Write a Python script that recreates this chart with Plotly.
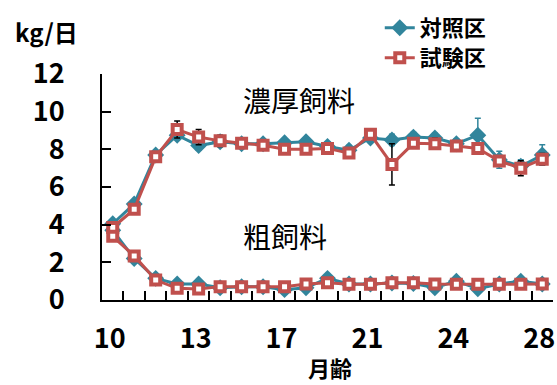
import plotly.graph_objects as go

# Categories (month of age) – 21 sampling points, labelled every 4th point
n_points = 21
tick_positions = [0, 4, 8, 12, 16, 20]
tick_labels = ["10", "13", "17", "21", "24", "28"]

# 濃厚飼料 (concentrate) intake, kg/day
conc_control = [4.05, 5.1, 7.7, 8.75, 8.2, 8.4, 8.3, 8.3, 8.35, 8.4, 8.15, 7.95, 8.6, 8.5, 8.65, 8.6, 8.3, 8.75, 7.45, 7.1, 7.7]
conc_test = [3.85, 4.82, 7.6, 9.05, 8.65, 8.45, 8.32, 8.22, 8.0, 8.0, 8.05, 7.8, 8.8, 7.2, 8.32, 8.3, 8.18, 8.05, 7.38, 7.0, 7.48]
conc_control_err = [0.1, 0.15, 0.1, 0.2, 0.25, 0.15, 0.1, 0.15, 0.15, 0.2, 0.25, 0.25, 0.2, 0.3, 0.25, 0.25, 0.25, 0.9, 0.45, 0.35, 0.55]
conc_test_err = [0.1, 0.1, 0.1, 0.45, 0.4, 0.3, 0.1, 0.1, 0.1, 0.1, 0.1, 0.1, 0.1, 1.1, 0.2, 0.3, 0.1, 0.2, 0.2, 0.4, 0.3]

# 粗飼料 (roughage) intake, kg/day
rough_control = [3.7, 2.2, 1.15, 0.85, 0.85, 0.65, 0.7, 0.7, 0.55, 0.65, 1.15, 0.85, 0.85, 0.9, 0.88, 0.65, 1.0, 0.6, 0.85, 1.0, 0.85]
rough_test = [3.38, 2.34, 1.06, 0.62, 0.58, 0.71, 0.71, 0.71, 0.71, 0.85, 0.92, 0.83, 0.83, 0.92, 0.92, 0.85, 0.83, 0.83, 0.83, 0.83, 0.85]
rough_control_err = [0.1] * n_points
rough_test_err = [0.1] * n_points

x = list(range(n_points))
teal = "#31859C"
red = "#C0504D"

fig = go.Figure()

def ctrl_trace(y, err, show):
    return go.Scatter(
        x=x, y=y, mode="lines+markers", name="対照区", showlegend=show,
        line=dict(color=teal, width=3),
        marker=dict(symbol="diamond", size=13, color=teal),
        error_y=dict(type="data", array=err, visible=True, color=teal, thickness=1.5, width=3),
        cliponaxis=False, legend="legend",
    )

def test_trace(y, err, show):
    return go.Scatter(
        x=x, y=y, mode="lines+markers", name="試験区", showlegend=show,
        line=dict(color=red, width=3),
        marker=dict(symbol="square", size=9, color="white", line=dict(color=red, width=4)),
        error_y=dict(type="data", array=err, visible=True, color="black", thickness=1.5, width=3),
        cliponaxis=False, legend="legend2",
    )

fig.add_trace(ctrl_trace(conc_control, conc_control_err, True))
fig.add_trace(ctrl_trace(rough_control, rough_control_err, False))
fig.add_trace(test_trace(conc_test, conc_test_err, True))
fig.add_trace(test_trace(rough_test, rough_test_err, False))

font_bold = "Noto Sans CJK JP"
L, T, W, H = 102, 74, 453, 226  # plot area in pixels

def px_x(p):
    return (p - L) / W

def px_y(p):
    return (T + H - p) / H

legend_style = dict(
    x=px_x(381), xanchor="left", yanchor="middle",
    font=dict(size=22, family=font_bold, weight="bold"),
    bgcolor="rgba(0,0,0,0)", itemwidth=30,
)

fig.update_layout(
    width=557, height=385,
    margin=dict(l=L, r=557 - L - W, t=T, b=385 - T - H),
    plot_bgcolor="white", paper_bgcolor="white",
    font=dict(family=font_bold, color="black"),
    showlegend=True,
    legend=dict(legend_style, y=px_y(28)),
    legend2=dict(legend_style, y=px_y(58)),
    xaxis=dict(
        range=[-0.5, n_points - 0.5],
        tickmode="array", tickvals=tick_positions, ticktext=tick_labels,
        ticks="", showgrid=False, zeroline=False,
        showline=True, linecolor="black", linewidth=2,
        tickfont=dict(size=27, family=font_bold, weight="bold"),
        ticklabelstandoff=14, ticklabelshift=-3, ticklabeloverflow="allow",
        minor=dict(tickmode="array", tickvals=[i - 0.5 for i in range(1, n_points)],
                   ticks="inside", ticklen=9, tickwidth=2, tickcolor="black", showgrid=False),
    ),
    yaxis=dict(
        range=[0, 12], dtick=2, tick0=0,
        ticks="inside", ticklen=9, tickwidth=2, tickcolor="black",
        showgrid=False, zeroline=False,
        showline=True, linecolor="black", linewidth=2,
        tickfont=dict(size=27, family=font_bold, weight="bold"),
        ticklabelstandoff=30,
    ),
    annotations=[
        dict(text="濃厚飼料", x=8.65, y=10.6, xref="x", yref="y", showarrow=False,
             font=dict(size=28, family="Noto Sans CJK JP")),
        dict(text="粗飼料", x=8.0, y=3.4, xref="x", yref="y", showarrow=False,
             font=dict(size=28, family="Noto Sans CJK JP")),
        dict(text="kg/日", x=px_x(46), y=px_y(32), xref="paper", yref="paper", showarrow=False,
             xanchor="center", yanchor="middle",
             font=dict(size=24, family=font_bold, weight="bold")),
        dict(text="月齢", x=px_x(331), y=px_y(367), xref="paper", yref="paper", showarrow=False,
             xanchor="center", yanchor="middle",
             font=dict(size=22, family=font_bold, weight="bold")),
    ],
)

fig.write_html("out.html")
